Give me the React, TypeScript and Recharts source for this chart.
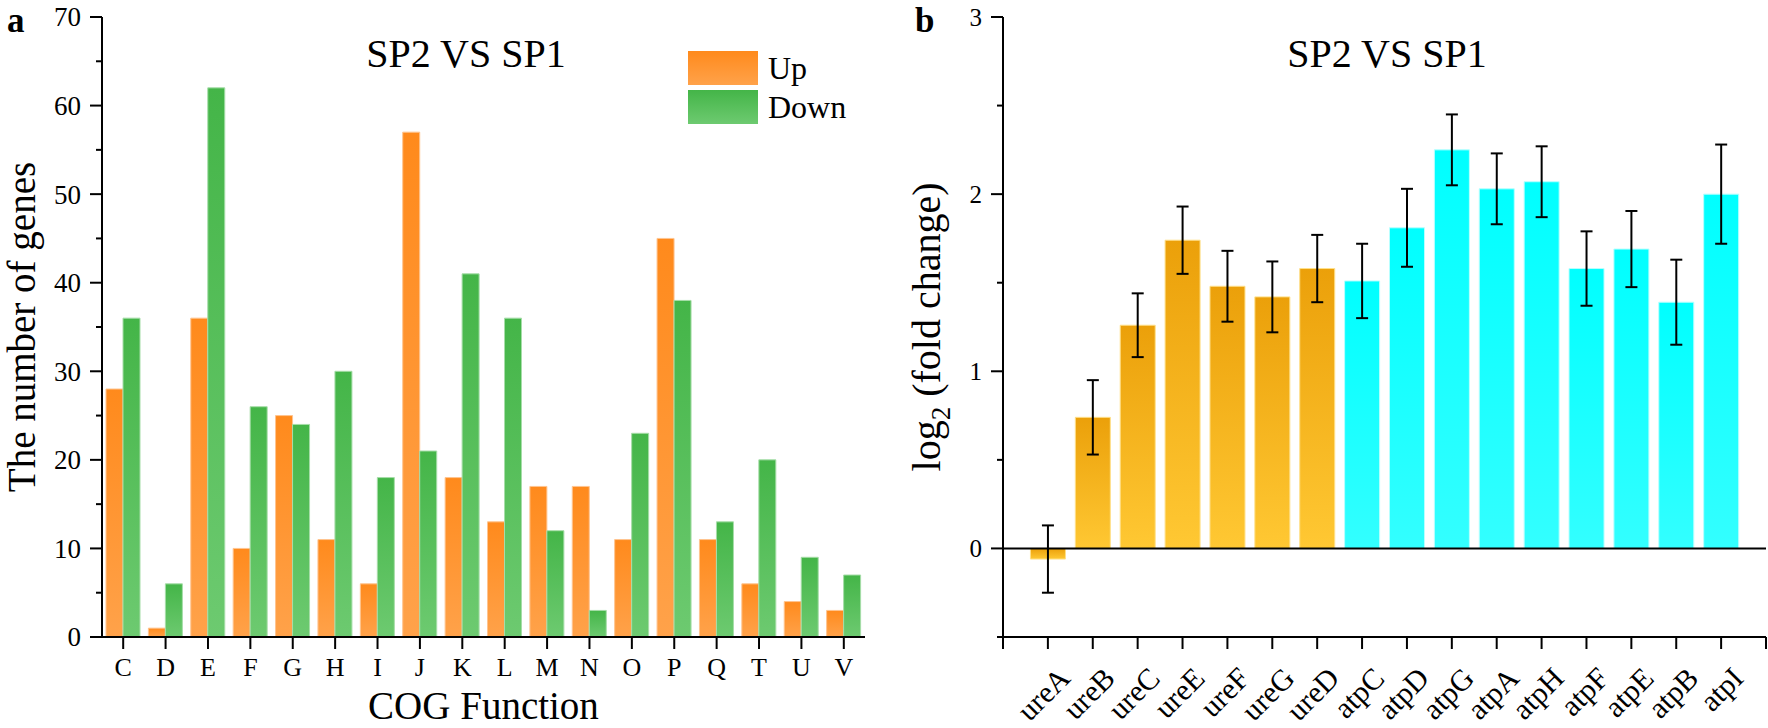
import React from 'react';
import {
  BarChart,
  Bar,
  XAxis,
  YAxis,
  Legend,
  ErrorBar,
  Cell,
  ReferenceLine,
  Label,
  Customized,
} from 'recharts';

// ---------- Panel a data ----------
const cogCategories = ['C', 'D', 'E', 'F', 'G', 'H', 'I', 'J', 'K', 'L', 'M', 'N', 'O', 'P', 'Q', 'T', 'U', 'V'];
const upCounts = [28, 1, 36, 10, 25, 11, 6, 57, 18, 13, 17, 17, 11, 45, 11, 6, 4, 3];
const downCounts = [36, 6, 62, 26, 24, 30, 18, 21, 41, 36, 12, 3, 23, 38, 13, 20, 9, 7];
const countTicks = [0, 5, 10, 15, 20, 25, 30, 35, 40, 45, 50, 55, 60, 65, 70];
const seriesNames = ['Up', 'Down'];

// ---------- Panel b data ----------
const genes = ['ureA', 'ureB', 'ureC', 'ureE', 'ureF', 'ureG', 'ureD', 'atpC', 'atpD', 'atpG', 'atpA', 'atpH', 'atpF', 'atpE', 'atpB', 'atpI'];
const log2FC = [-0.06, 0.74, 1.26, 1.74, 1.48, 1.42, 1.58, 1.51, 1.81, 2.25, 2.03, 2.07, 1.58, 1.69, 1.39, 2.0];
const fcError = [0.19, 0.21, 0.18, 0.19, 0.2, 0.2, 0.19, 0.21, 0.22, 0.2, 0.2, 0.2, 0.21, 0.215, 0.24, 0.28];
const fcTicks = [-0.5, 0, 0.5, 1, 1.5, 2, 2.5, 3];
const genePositions = [0, 1, 2, 3, 4, 5, 6, 7, 8, 9, 10, 11, 12, 13, 14, 15, 16, 17];

const cogData = cogCategories.map((c, i) => ({ cog: c, up: upCounts[i], down: downCounts[i] }));
const geneData = genes.map((g, i) => ({ pos: i + 1, gene: g, fc: log2FC[i], err: fcError[i] }));

const FONT = '"Liberation Serif", "Times New Roman", serif';
const axisStyle = { stroke: '#000', strokeWidth: 2 };

const CountTick = (props: any) => {
  const { x, y, payload } = props;
  const v = payload.value;
  const major = v % 10 === 0;
  return (
    <g>
      <line x1={x - (major ? 12 : 6)} x2={x} y1={y} y2={y} stroke="#000" strokeWidth={2} />
      {major && (
        <text x={x - 21} y={y} dy="0.35em" textAnchor="end" fontSize={27} fontFamily={FONT} fill="#000">
          {v}
        </text>
      )}
    </g>
  );
};

const FcTick = (props: any) => {
  const { x, y, payload } = props;
  const v = payload.value;
  const major = Number.isInteger(v);
  return (
    <g>
      <line x1={x - (major ? 12 : 6)} x2={x} y1={y} y2={y} stroke="#000" strokeWidth={2} />
      {major && (
        <text x={x - 21} y={y} dy="0.35em" textAnchor="end" fontSize={25} fontFamily={FONT} fill="#000">
          {v}
        </text>
      )}
    </g>
  );
};

const GeneTick = (props: any) => {
  const { x, y, payload } = props;
  const idx = payload.value - 1;
  const name = idx >= 0 && idx < genes.length ? genes[idx] : '';
  const ax = x + 24;
  const ay = y + 31;
  return (
    <text
      x={ax}
      y={ay}
      textAnchor="end"
      transform={`rotate(-45, ${ax}, ${ay})`}
      fontSize={30}
      fontFamily={FONT}
      fill="#000"
    >
      {name}
    </text>
  );
};

const LegendBox = () => {
  const fills = ['url(#legOrange)', 'url(#legGreen)'];
  return (
    <svg width={170} height={80} style={{ overflow: 'visible' }}>
      <defs>
        <linearGradient id="legOrange" x1="0" y1="0" x2="0" y2="1">
          <stop offset="0%" stopColor="#FF8A1C" />
          <stop offset="100%" stopColor="#FFA24A" />
        </linearGradient>
        <linearGradient id="legGreen" x1="0" y1="0" x2="0" y2="1">
          <stop offset="0%" stopColor="#44B548" />
          <stop offset="100%" stopColor="#6DCA70" />
        </linearGradient>
      </defs>
      {seriesNames.map((name, i) => (
        <g key={name}>
          <rect x={0} y={i * 39} width={70} height={34} fill={fills[i]} />
          <text x={80} y={28 + i * 39} fontSize={32} fontFamily={FONT} fill="#000">
            {name}
          </text>
        </g>
      ))}
    </svg>
  );
};

const LeftTexts = () => (
  <g>
    <text x={7} y={32} fontSize={35} fontWeight="bold" fontFamily={FONT} fill="#000">a</text>
    <text x={466} y={67} textAnchor="middle" fontSize={40} fontFamily={FONT} fill="#000">SP2 VS SP1</text>
  </g>
);

const RightTexts = () => (
  <g>
    <text x={35} y={32} fontSize={35} fontWeight="bold" fontFamily={FONT} fill="#000">b</text>
    <text x={507} y={67} textAnchor="middle" fontSize={40} fontFamily={FONT} fill="#000">SP2 VS SP1</text>
  </g>
);

const FcLabel = (props: any) => {
  const vb = props.viewBox || { x: 0, y: 0, width: 0, height: 0 };
  const cx = vb.x + 46;
  const cy = vb.y + vb.height / 2;
  return (
    <text
      x={cx}
      y={cy}
      dy="0.355em"
      textAnchor="middle"
      transform={`rotate(-90, ${cx}, ${cy})`}
      fontSize={40}
      fontFamily={FONT}
      fill="#000"
    >
      log
      <tspan fontSize={27} dy={10}>2</tspan>
      <tspan dy={-10}> (fold change)</tspan>
    </text>
  );
};

export default function App() {
  return (
    <div
      style={{
        position: 'absolute',
        left: 0,
        top: 0,
        width: 1768,
        height: 728,
        background: '#fff',
        fontFamily: FONT,
      }}
    >
      <div style={{ position: 'absolute', left: 0, top: 0 }}>
        <BarChart
          width={880}
          height={728}
          data={cogData}
          margin={{ top: 17, right: 15, bottom: 0, left: 0 }}
          barGap={0}
          barSize={17}
        >
          <defs>
            <linearGradient id="gOrange" x1="0" y1="0" x2="0" y2="1">
              <stop offset="0%" stopColor="#FF8A1C" />
              <stop offset="100%" stopColor="#FFA24A" />
            </linearGradient>
            <linearGradient id="gGreen" x1="0" y1="0" x2="0" y2="1">
              <stop offset="0%" stopColor="#44B548" />
              <stop offset="100%" stopColor="#6DCA70" />
            </linearGradient>
          </defs>
          <XAxis
            dataKey="cog"
            height={91}
            interval={0}
            tickSize={12}
            tickMargin={9}
            axisLine={axisStyle}
            tickLine={axisStyle}
            tick={{ fill: '#000', fontSize: 26, fontFamily: FONT }}
          >
            <Label
              value="COG Function"
              position="insideBottom"
              offset={9}
              style={{ fontSize: 39, fontFamily: FONT, fill: '#000' }}
            />
          </XAxis>
          <XAxis xAxisId="top" dataKey="cog" orientation="top" height={0} tick={false} tickLine={false} axisLine={axisStyle} />
          <YAxis
            width={102}
            domain={[0, 70]}
            ticks={countTicks}
            interval={0}
            tickSize={0}
            tickMargin={0}
            tickLine={false}
            axisLine={axisStyle}
            tick={<CountTick />}
          >
            <Label
              value="The number of genes"
              angle={-90}
              position="insideLeft"
              offset={21}
              style={{ fontSize: 39, fontFamily: FONT, fill: '#000', textAnchor: 'middle' }}
            />
          </YAxis>
          <YAxis yAxisId="r" orientation="right" width={0} tick={false} tickLine={false} axisLine={axisStyle} />
          <Legend
            layout="vertical"
            align="center"
            verticalAlign="middle"
            content={<LegendBox />}
            wrapperStyle={{ position: 'absolute', left: 688, top: 51, width: 170, height: 80 }}
          />
          <Bar dataKey="up" name={seriesNames[0]} fill="url(#gOrange)" stroke="#FFC48F" strokeWidth={1} isAnimationActive={false} />
          <Bar dataKey="down" name={seriesNames[1]} fill="url(#gGreen)" stroke="#A6DDA8" strokeWidth={1} isAnimationActive={false} />
          <Customized component={LeftTexts} />
        </BarChart>
      </div>

      <div style={{ position: 'absolute', left: 880, top: 0 }}>
        <BarChart
          width={888}
          height={728}
          data={geneData}
          margin={{ top: 17, right: 2, bottom: 0, left: 0 }}
        >
          <defs>
            <linearGradient id="gGold" x1="0" y1="0" x2="0" y2="1">
              <stop offset="0%" stopColor="#EBA00A" />
              <stop offset="100%" stopColor="#FFC833" />
            </linearGradient>
            <linearGradient id="gCyan" x1="0" y1="0" x2="0" y2="1">
              <stop offset="0%" stopColor="#00FFFF" />
              <stop offset="100%" stopColor="#33FFFF" />
            </linearGradient>
          </defs>
          <XAxis
            dataKey="pos"
            type="number"
            domain={[0, 17]}
            ticks={genePositions}
            interval={0}
            height={91}
            tickSize={12}
            tickMargin={0}
            axisLine={axisStyle}
            tickLine={axisStyle}
            tick={<GeneTick />}
          />
          <XAxis
            xAxisId="top"
            dataKey="pos"
            type="number"
            domain={[0, 17]}
            orientation="top"
            height={0}
            tick={false}
            tickLine={false}
            axisLine={axisStyle}
          />
          <YAxis
            width={123}
            domain={[-0.5, 3]}
            ticks={fcTicks}
            interval={0}
            allowDataOverflow
            tickSize={0}
            tickMargin={0}
            tickLine={false}
            axisLine={axisStyle}
            tick={<FcTick />}
          >
            <Label content={<FcLabel />} position="insideLeft" />
          </YAxis>
          <YAxis yAxisId="r" orientation="right" width={0} tick={false} tickLine={false} axisLine={axisStyle} />
          <ReferenceLine y={0} stroke="#000" strokeWidth={2} />
          <Bar dataKey="fc" barSize={35} isAnimationActive={false}>
            {geneData.map((d) => (
              <Cell
                key={d.gene}
                fill={d.gene.startsWith('ure') ? 'url(#gGold)' : 'url(#gCyan)'}
                stroke={d.gene.startsWith('ure') ? '#FFE08A' : '#B8FFFF'}
                strokeWidth={1}
              />
            ))}
            <ErrorBar dataKey="err" width={6} stroke="#000" strokeWidth={2} />
          </Bar>
          <Customized component={RightTexts} />
        </BarChart>
      </div>
    </div>
  );
}
